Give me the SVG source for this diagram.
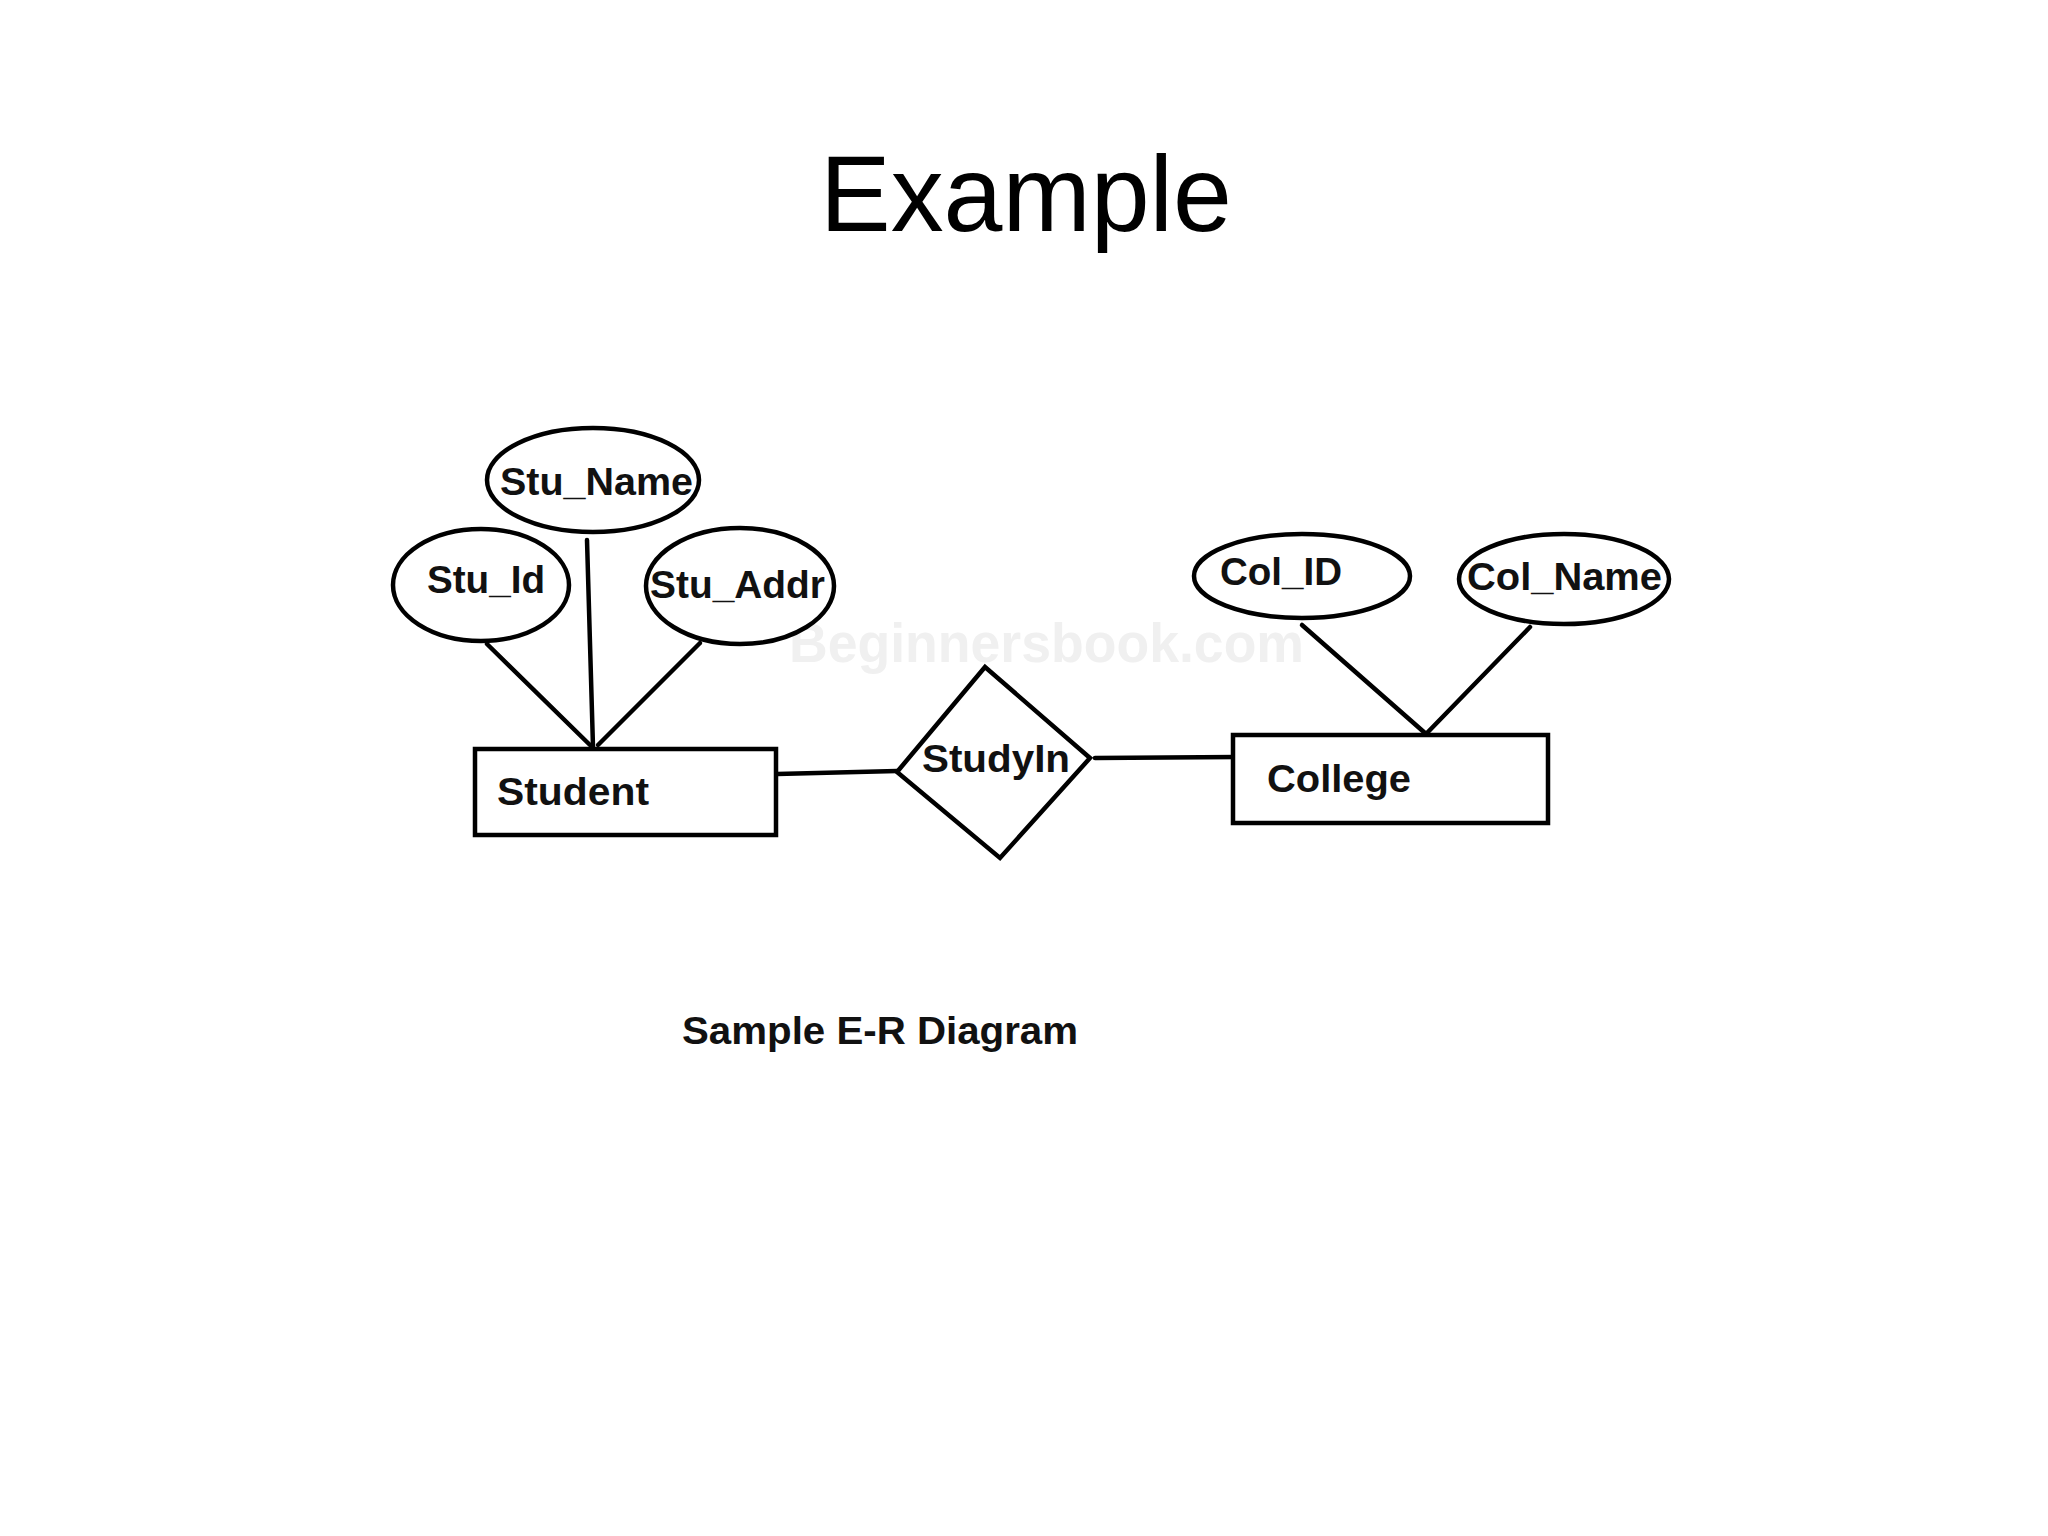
<svg xmlns="http://www.w3.org/2000/svg" width="2048" height="1536" viewBox="0 0 2048 1536">
<style>
.shape{fill:#fff;stroke:#000;stroke-width:4.5}
.conn{stroke:#000;stroke-width:4.5;fill:none;stroke-linecap:round}
.lbl{font-family:"Liberation Sans",Arial,sans-serif;font-weight:bold;font-size:38px;fill:#111}
</style>
<rect width="2048" height="1536" fill="#fff"/>
<text x="820" y="231" font-family="'Liberation Sans',Arial,sans-serif" font-size="108" textLength="412" lengthAdjust="spacingAndGlyphs" fill="#000">Example</text>
<text x="789" y="662" font-family="'Liberation Sans',Arial,sans-serif" font-weight="bold" font-size="56" textLength="515" lengthAdjust="spacingAndGlyphs" fill="#f0f0f0">Beginnersbook.com</text>
<g id="connectors">
<line class="conn" x1="487" y1="644" x2="590" y2="745"/>
<line class="conn" x1="587" y1="540" x2="593" y2="747"/>
<line class="conn" x1="700" y1="643" x2="598" y2="745"/>
<line class="conn" x1="777" y1="774" x2="897" y2="771"/>
<line class="conn" x1="1095" y1="758" x2="1237" y2="757"/>
<line class="conn" x1="1302" y1="625" x2="1425" y2="733"/>
<line class="conn" x1="1530" y1="627" x2="1427" y2="733"/>
</g>
<g id="student">
<rect class="shape" x="475" y="749" width="301" height="86"/>
<text class="lbl" x="497" y="805" textLength="152" lengthAdjust="spacingAndGlyphs">Student</text>
</g>
<g id="stu_name">
<ellipse class="shape" cx="593" cy="480" rx="106" ry="52"/>
<text class="lbl" x="500" y="495" textLength="193" lengthAdjust="spacingAndGlyphs">Stu_Name</text>
</g>
<g id="stu_id">
<ellipse class="shape" cx="481" cy="585" rx="88" ry="56"/>
<text class="lbl" x="427" y="593" textLength="118" lengthAdjust="spacingAndGlyphs">Stu_Id</text>
</g>
<g id="stu_addr">
<ellipse class="shape" cx="740" cy="586" rx="94" ry="58"/>
<text class="lbl" x="650" y="598" textLength="175" lengthAdjust="spacingAndGlyphs">Stu_Addr</text>
</g>
<g id="studyin">
<polygon class="shape" points="985,667 1090,758 1000,858 897,772" stroke-linejoin="miter"/>
<text class="lbl" x="922" y="772" textLength="148" lengthAdjust="spacingAndGlyphs">StudyIn</text>
</g>
<g id="college">
<rect class="shape" x="1233" y="735" width="315" height="88"/>
<text class="lbl" x="1267" y="792" textLength="144" lengthAdjust="spacingAndGlyphs">College</text>
</g>
<g id="col_id">
<ellipse class="shape" cx="1302" cy="576" rx="108" ry="42"/>
<text class="lbl" x="1220" y="585" textLength="122" lengthAdjust="spacingAndGlyphs">Col_ID</text>
</g>
<g id="col_name">
<ellipse class="shape" cx="1564" cy="579" rx="105" ry="45"/>
<text class="lbl" x="1467" y="590" textLength="195" lengthAdjust="spacingAndGlyphs">Col_Name</text>
</g>
<text class="lbl" x="682" y="1044" font-size="39" textLength="396" lengthAdjust="spacingAndGlyphs">Sample E-R Diagram</text>
</svg>
